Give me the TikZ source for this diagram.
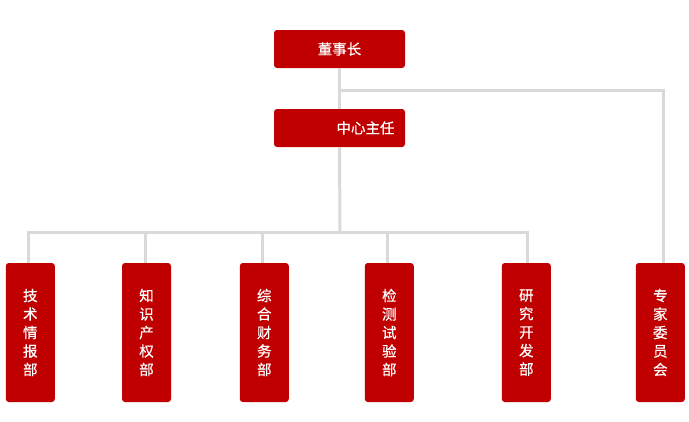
\documentclass[tikz,border=0pt]{standalone}
\usepackage{fontspec}
\newfontfamily\cjk[FakeBold=0.6]{Noto Sans CJK SC}
\usetikzlibrary{positioning}
\definecolor{boxred}{HTML}{C00000}
\definecolor{linegray}{HTML}{D9D9D9}
\tikzset{
  headbox/.style={fill=boxred, rounded corners=3pt, text=white, minimum width=131pt, minimum height=38pt, inner sep=0pt, font=\cjk\fontsize{14.5}{18.5}\selectfont},
  deptbox/.style={fill=boxred, rounded corners=3pt, text=white, minimum width=49pt, minimum height=139pt, inner sep=0pt, align=center, font=\cjk\fontsize{14.5}{18.5}\selectfont},
  link/.style={draw=linegray, line width=3pt}
}
\begin{document}
\begin{tikzpicture}[x=1pt, y=-1pt]
\useasboundingbox (0,0) rectangle (689,421);
% links first, boxes on top
\coordinate (fork) at (340,90);
\coordinate (bus) at (340,232);
\node[headbox] (chair) at (339.5,49) {董事长};
\node[headbox] (director) at (339.5,128) {\hspace*{52pt}中心主任};
\foreach \n/\x/\t in {tech/30.3/技\\术\\情\\报\\部, ip/146.5/知\\识\\产\\权\\部, fin/264.3/综\\合\\财\\务\\部, test/389.3/检\\测\\试\\验\\部, rd/526.3/研\\究\\开\\发\\部, expert/660.3/专\\家\\委\\员\\会} {
  \node[deptbox] (\n) at (\x,332.5) {\t};
}
\begin{scope}[on background layer/.try]
\draw[link] (chair.south) -- (director.north);
\draw[link] (fork) -| ([xshift=3pt]expert.north);
\draw[link] (director.south) -- (bus);
\foreach \n/\d in {tech/-2,ip/-1,fin/-2,test/-2,rd/1} {
  \draw[link] (bus) -| ([xshift=\d pt]\n.north);
}
\end{scope}
\end{tikzpicture}
\end{document}
